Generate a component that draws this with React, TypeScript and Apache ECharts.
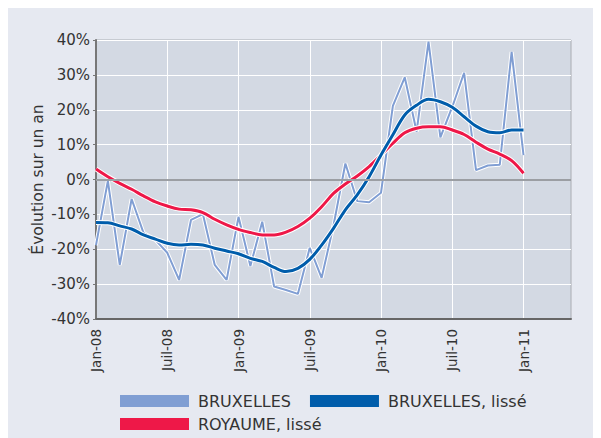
import React, { useEffect, useRef } from "react";
import * as echarts from "echarts";

const monthNames = ["Jan", "Fév", "Mar", "Avr", "Mai", "Juin", "Juil", "Aoû", "Sep", "Oct", "Nov", "Déc"];
const years = ["08", "09", "10", "11"];
const categories: string[] = [];
years.forEach((y) => monthNames.forEach((m) => categories.push(m + "-" + y)));
const axisMonths = categories.slice(0, 41); // Jan-08 .. Mai-11

const bruxelles = [-18.8, -0.4, -24.5, -5.6, -15.3, -17.3, -21.0, -28.8, -11.6, -9.9, -24.5, -28.8, -10.7, -24.8, -12.1, -30.7, -31.7, -32.8, -19.6, -28.2, -13.2, 4.6, -6.2, -6.5, -3.8, 21.1, 29.3, 13.7, 39.5, 12.1, 20.8, 30.6, 2.7, 4.0, 4.2, 36.6, 7.0];
const bruxellesLisse = [-12.3, -12.4, -13.3, -14.2, -15.9, -17.1, -18.3, -18.8, -18.6, -18.8, -19.7, -20.5, -21.3, -22.6, -23.5, -25.2, -26.4, -25.5, -22.9, -18.8, -14.0, -8.7, -4.4, 0.8, 7.0, 12.8, 18.5, 21.3, 23.0, 22.3, 20.7, 18.0, 15.3, 13.7, 13.4, 14.2, 14.2];
const royaumeLisse = [3.0, 0.8, -1.1, -2.8, -4.7, -6.4, -7.6, -8.5, -8.7, -9.5, -11.4, -13.0, -14.3, -15.2, -15.9, -15.9, -15.1, -13.5, -11.1, -7.8, -4.0, -1.3, 1.0, 3.7, 7.0, 10.4, 13.4, 14.7, 15.1, 15.1, 14.2, 12.9, 10.7, 8.7, 7.3, 5.4, 1.8];

const FONT = "DejaVu Sans";
const TXT = "#333";

export default function App() {
  const ref = useRef<HTMLDivElement>(null);
  useEffect(() => {
    const chart = echarts.init(ref.current!, undefined, { renderer: "svg" });
    chart.setOption({
      animation: false,
      backgroundColor: "#e6e9f1",
      textStyle: { fontFamily: FONT },
      grid: {
        left: 88,
        top: 32,
        right: 30,
        bottom: 119,
        show: true,
        backgroundColor: "#d3d9e3",
        borderColor: "#a9acb2",
        borderWidth: 1,
      },
      legend: [
        {
          data: ["BRUXELLES", "BRUXELLES, lissé"],
          left: 112,
          top: 385,
          padding: 0,
          icon: "rect",
          itemWidth: 69,
          itemHeight: 12,
          itemGap: 19,
          textStyle: { fontFamily: FONT, fontSize: 16, color: TXT, padding: [0, 0, 0, 4] },
          selectedMode: false,
        },
        {
          data: ["ROYAUME, lissé"],
          left: 112,
          top: 408,
          padding: 0,
          icon: "rect",
          itemWidth: 69,
          itemHeight: 12,
          textStyle: { fontFamily: FONT, fontSize: 16, color: TXT, padding: [0, 0, 0, 4] },
          selectedMode: false,
        },
      ],
      xAxis: {
        type: "category",
        data: axisMonths,
        boundaryGap: false,
        axisLine: { onZero: false, lineStyle: { color: "#666", width: 2 } },
        axisTick: { show: false },
        axisLabel: {
          interval: 5,
          rotate: 90,
          margin: 10,
          fontFamily: FONT,
          fontSize: 13.5,
          color: TXT,
        },
        splitLine: {
          show: true,
          interval: 5,
          lineStyle: { color: "#ffffff", width: 1 },
        },
      },
      yAxis: {
        type: "value",
        min: -40,
        max: 40,
        interval: 10,
        name: "Évolution sur un an",
        nameLocation: "middle",
        nameGap: 50,
        nameMoveOverlap: false,
        nameTextStyle: { fontFamily: FONT, fontSize: 15.5, color: TXT },
        axisLine: { show: true, lineStyle: { color: "#777", width: 2 } },
        axisTick: { show: true, length: 3, lineStyle: { color: "#777" } },
        axisLabel: {
          formatter: "{value}%",
          fontFamily: FONT,
          fontSize: 15,
          color: TXT,
          margin: 6,
        },
        splitLine: { show: true, lineStyle: { color: "#ffffff", width: 1 } },
      },
      series: [
        {
          name: "halo-raw",
          type: "line",
          data: bruxelles,
          symbol: "none",
          color: "#ffffff",
          lineStyle: { color: "#ffffff", width: 4 },
          silent: true,
          markLine: {
            silent: true,
            symbol: "none",
            label: { show: false },
            lineStyle: { color: "#9b9ea3", width: 2, type: "solid" },
            data: [{ yAxis: 0 }],
          },
        },
        {
          name: "BRUXELLES",
          type: "line",
          data: bruxelles,
          symbol: "none",
          color: "#809ed3",
          lineStyle: { color: "#809ed3", width: 2 },
        },
        {
          name: "halo-roy",
          type: "line",
          data: royaumeLisse,
          symbol: "none",
          smooth: 0.35,
          color: "#ffffff",
          lineStyle: { color: "#ffffff", width: 5 },
          silent: true,
        },
        {
          name: "ROYAUME, lissé",
          type: "line",
          data: royaumeLisse,
          symbol: "none",
          smooth: 0.35,
          color: "#ee1848",
          lineStyle: { color: "#ee1848", width: 3 },
        },
        {
          name: "halo-bxl",
          type: "line",
          data: bruxellesLisse,
          symbol: "none",
          smooth: 0.35,
          color: "#ffffff",
          lineStyle: { color: "#ffffff", width: 5 },
          silent: true,
        },
        {
          name: "BRUXELLES, lissé",
          type: "line",
          data: bruxellesLisse,
          symbol: "none",
          smooth: 0.35,
          color: "#005dab",
          lineStyle: { color: "#005dab", width: 3 },
        },
      ],
    });
    return () => chart.dispose();
  }, []);
  return <div ref={ref} style={{ width: 593, height: 430 }} />;
}
